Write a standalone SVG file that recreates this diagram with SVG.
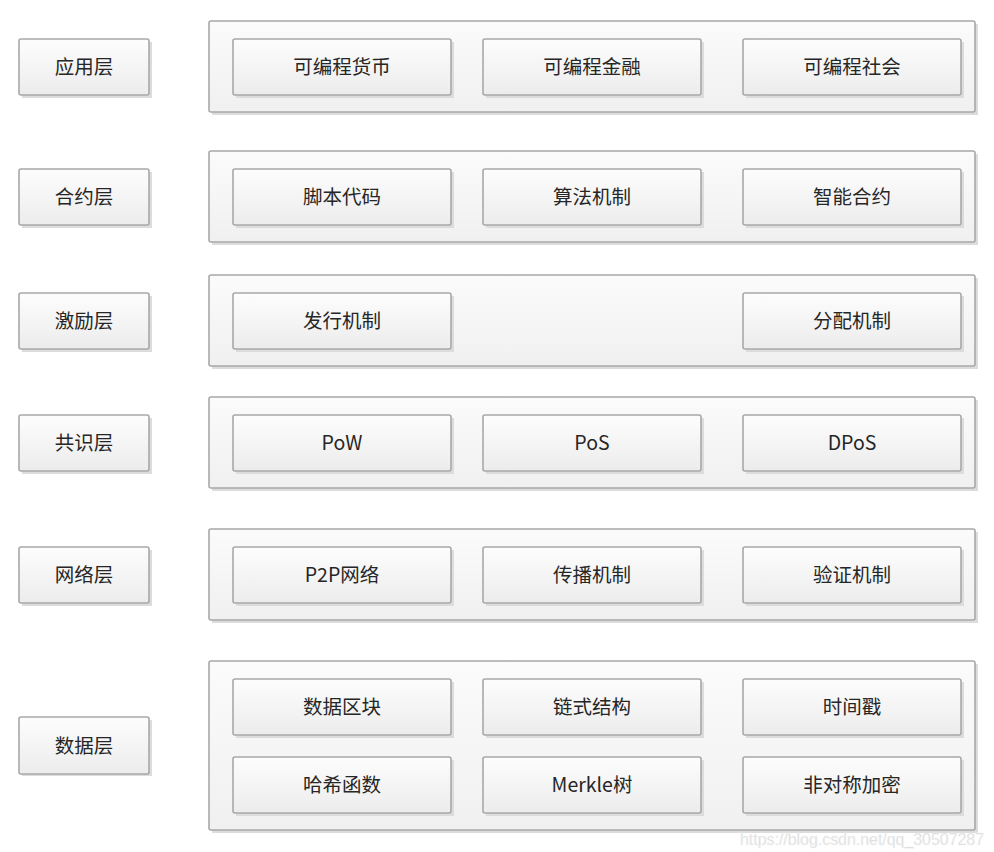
<svg xmlns="http://www.w3.org/2000/svg" width="994" height="852" viewBox="0 0 994 852">
<defs>
<linearGradient id="g" x1="0" y1="0" x2="0" y2="1"><stop offset="0" stop-color="#fdfdfd"/><stop offset="1" stop-color="#ececec"/></linearGradient>
<linearGradient id="gc" x1="0" y1="0" x2="0" y2="1"><stop offset="0" stop-color="#fbfbfb"/><stop offset="1" stop-color="#f0f0f0"/></linearGradient>
<style>
.sh{fill:#dcdcdc}
.b{fill:url(#g);stroke:#a8a8a8;stroke-width:1.6}
.c{fill:url(#gc);stroke:#a8a8a8;stroke-width:1.6}
text{font-family:"Noto Sans CJK SC","Noto Sans",sans-serif;font-size:19.5px;fill:#262626;text-anchor:middle;dominant-baseline:central}
.wm{font-family:"Liberation Sans",Arial,sans-serif;font-size:16px;fill:#d8d8d8;stroke:#f4f4f4;stroke-width:0.5;text-anchor:start}
</style>
</defs>
<rect width="994" height="852" fill="#ffffff"/>

<g id="row1">
<g id="l1"><rect class="sh" x="22" y="42" width="130" height="56"/><rect class="b" x="19" y="39" width="130" height="56" rx="2"/><text x="84" y="65.5">应用层</text></g>
<g id="c1"><rect class="sh" x="212" y="24" width="766" height="91"/><rect class="c" x="209" y="21" width="766" height="91" rx="2"/></g>
<g id="n1a"><rect class="sh" x="236" y="42" width="218" height="56"/><rect class="b" x="233" y="39" width="218" height="56" rx="2"/><text x="342" y="65.5">可编程货币</text></g>
<g id="n1b"><rect class="sh" x="486" y="42" width="218" height="56"/><rect class="b" x="483" y="39" width="218" height="56" rx="2"/><text x="592" y="65.5">可编程金融</text></g>
<g id="n1c"><rect class="sh" x="746" y="42" width="218" height="56"/><rect class="b" x="743" y="39" width="218" height="56" rx="2"/><text x="852" y="65.5">可编程社会</text></g>
</g>

<g id="row2">
<g id="l2"><rect class="sh" x="22" y="172" width="130" height="56"/><rect class="b" x="19" y="169" width="130" height="56" rx="2"/><text x="84" y="195.5">合约层</text></g>
<g id="c2"><rect class="sh" x="212" y="154" width="766" height="91"/><rect class="c" x="209" y="151" width="766" height="91" rx="2"/></g>
<g id="n2a"><rect class="sh" x="236" y="172" width="218" height="56"/><rect class="b" x="233" y="169" width="218" height="56" rx="2"/><text x="342" y="195.5">脚本代码</text></g>
<g id="n2b"><rect class="sh" x="486" y="172" width="218" height="56"/><rect class="b" x="483" y="169" width="218" height="56" rx="2"/><text x="592" y="195.5">算法机制</text></g>
<g id="n2c"><rect class="sh" x="746" y="172" width="218" height="56"/><rect class="b" x="743" y="169" width="218" height="56" rx="2"/><text x="852" y="195.5">智能合约</text></g>
</g>

<g id="row3">
<g id="l3"><rect class="sh" x="22" y="296" width="130" height="56"/><rect class="b" x="19" y="293" width="130" height="56" rx="2"/><text x="84" y="319.5">激励层</text></g>
<g id="c3"><rect class="sh" x="212" y="278" width="766" height="91"/><rect class="c" x="209" y="275" width="766" height="91" rx="2"/></g>
<g id="n3a"><rect class="sh" x="236" y="296" width="218" height="56"/><rect class="b" x="233" y="293" width="218" height="56" rx="2"/><text x="342" y="319.5">发行机制</text></g>
<g id="n3c"><rect class="sh" x="746" y="296" width="218" height="56"/><rect class="b" x="743" y="293" width="218" height="56" rx="2"/><text x="852" y="319.5">分配机制</text></g>
</g>

<g id="row4">
<g id="l4"><rect class="sh" x="22" y="418" width="130" height="56"/><rect class="b" x="19" y="415" width="130" height="56" rx="2"/><text x="84" y="441.5">共识层</text></g>
<g id="c4"><rect class="sh" x="212" y="400" width="766" height="91"/><rect class="c" x="209" y="397" width="766" height="91" rx="2"/></g>
<g id="n4a"><rect class="sh" x="236" y="418" width="218" height="56"/><rect class="b" x="233" y="415" width="218" height="56" rx="2"/><text x="342" y="441.5">PoW</text></g>
<g id="n4b"><rect class="sh" x="486" y="418" width="218" height="56"/><rect class="b" x="483" y="415" width="218" height="56" rx="2"/><text x="592" y="441.5">PoS</text></g>
<g id="n4c"><rect class="sh" x="746" y="418" width="218" height="56"/><rect class="b" x="743" y="415" width="218" height="56" rx="2"/><text x="852" y="441.5">DPoS</text></g>
</g>

<g id="row5">
<g id="l5"><rect class="sh" x="22" y="550" width="130" height="56"/><rect class="b" x="19" y="547" width="130" height="56" rx="2"/><text x="84" y="573.5">网络层</text></g>
<g id="c5"><rect class="sh" x="212" y="532" width="766" height="91"/><rect class="c" x="209" y="529" width="766" height="91" rx="2"/></g>
<g id="n5a"><rect class="sh" x="236" y="550" width="218" height="56"/><rect class="b" x="233" y="547" width="218" height="56" rx="2"/><text x="342" y="573.5">P2P网络</text></g>
<g id="n5b"><rect class="sh" x="486" y="550" width="218" height="56"/><rect class="b" x="483" y="547" width="218" height="56" rx="2"/><text x="592" y="573.5">传播机制</text></g>
<g id="n5c"><rect class="sh" x="746" y="550" width="218" height="56"/><rect class="b" x="743" y="547" width="218" height="56" rx="2"/><text x="852" y="573.5">验证机制</text></g>
</g>

<g id="row6">
<g id="l6"><rect class="sh" x="22" y="720" width="130" height="56"/><rect class="b" x="19" y="717" width="130" height="57" rx="2"/><text x="84" y="744.5">数据层</text></g>
<g id="c6"><rect class="sh" x="212" y="664" width="766" height="169"/><rect class="c" x="209" y="661" width="766" height="169" rx="2"/></g>
<g id="n6a"><rect class="sh" x="236" y="682" width="218" height="56"/><rect class="b" x="233" y="679" width="218" height="56" rx="2"/><text x="342" y="705.5">数据区块</text></g>
<g id="n6b"><rect class="sh" x="486" y="682" width="218" height="56"/><rect class="b" x="483" y="679" width="218" height="56" rx="2"/><text x="592" y="705.5">链式结构</text></g>
<g id="n6c"><rect class="sh" x="746" y="682" width="218" height="56"/><rect class="b" x="743" y="679" width="218" height="56" rx="2"/><text x="852" y="705.5">时间戳</text></g>
<g id="n6d"><rect class="sh" x="236" y="760" width="218" height="56"/><rect class="b" x="233" y="757" width="218" height="56" rx="2"/><text x="342" y="783.5">哈希函数</text></g>
<g id="n6e"><rect class="sh" x="486" y="760" width="218" height="56"/><rect class="b" x="483" y="757" width="218" height="56" rx="2"/><text x="592" y="783.5">Merkle树</text></g>
<g id="n6f"><rect class="sh" x="746" y="760" width="218" height="56"/><rect class="b" x="743" y="757" width="218" height="56" rx="2"/><text x="852" y="783.5">非对称加密</text></g>
</g>

<g id="connectors"></g>
<text class="wm" x="740" y="839" textLength="244" lengthAdjust="spacingAndGlyphs">https://blog.csdn.net/qq_30507287</text>
</svg>
